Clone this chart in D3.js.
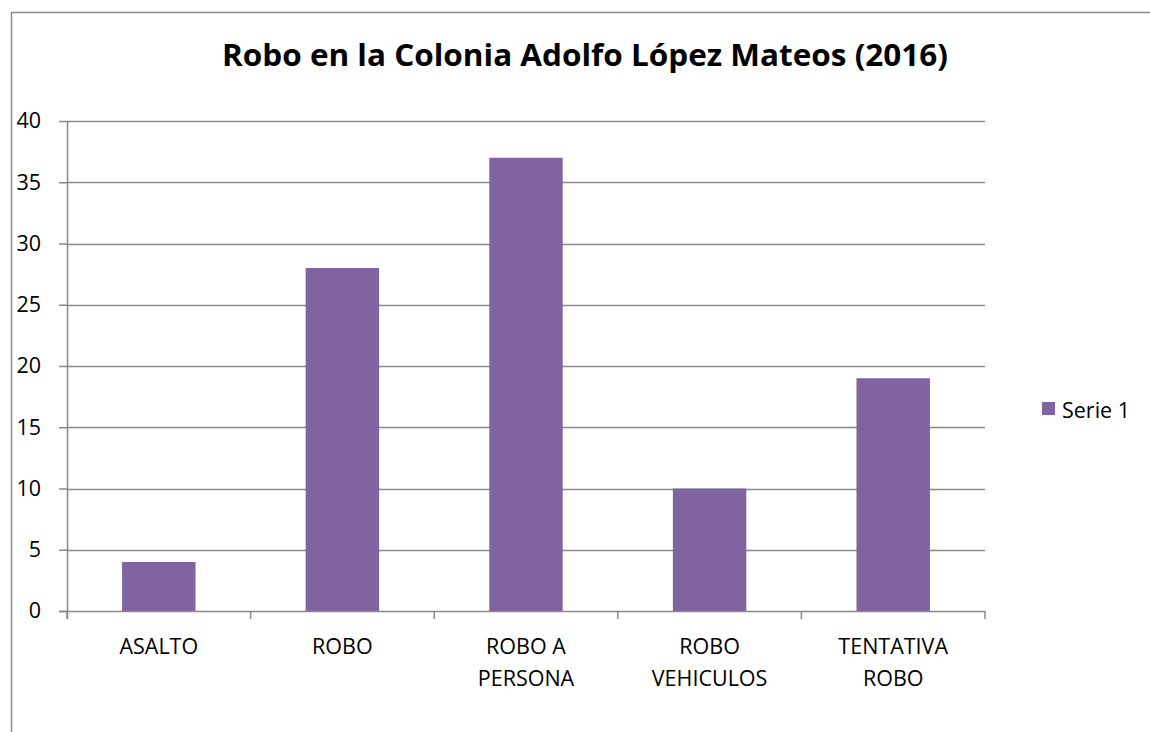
<!DOCTYPE html>
<meta charset="utf-8">
<style>
    html, body { margin: 0; background: #fff; overflow: hidden; }
    svg { display: block; }
    text { fill: #000; font-family: "Open Sans", sans-serif; }
    .title { font-weight: bold; font-size: 31px; }
    .axis text { font-size: 21.5px; }
    .axis path, .axis line { stroke: #898989; }
    .grid line { stroke: #898989; }
    rect.bar { fill: #8064a2; }
</style>
<body>
<script src="https://cdnjs.cloudflare.com/ajax/libs/d3/7.8.5/d3.min.js"></script>
<script>

    var categories = [["ASALTO"], ["ROBO"], ["ROBO A", "PERSONA"], ["ROBO", "VEHICULOS"], ["TENTATIVA", "ROBO"]];
    var values = [4, 28, 37, 10, 19];
    var yTicks = [0, 5, 10, 15, 20, 25, 30, 35, 40];
    var seriesName = "Serie 1";
    var titleText = "Robo en la Colonia Adolfo López Mateos (2016)";

    var W = 1150, H = 732;
    var margin = {top: 121, right: 165, bottom: 121, left: 67},
        width = W - margin.left - margin.right,
        height = H - margin.top - margin.bottom;

    var svg = d3.select("body").append("svg")
        .attr("width", W)
        .attr("height", H);

    // chart frame: only the top and left edges are inside the picture
    svg.append("path")
        .attr("d", "M11.5," + H + "V12.5H" + W)
        .attr("fill", "none").attr("stroke", "#898989").attr("stroke-width", 1.5);

    var title = svg.append("text")
        .attr("class", "title")
        .attr("x", 585).attr("y", 66)
        .attr("text-anchor", "middle")
        .text(titleText);
    // fit to the reference width
    title.attr("textLength", 726).attr("lengthAdjust", "spacingAndGlyphs");

    var g = svg.append("g")
        .attr("transform", "translate(" + margin.left + "," + margin.top + ")");

    var idx = d3.range(values.length);
    var x = d3.scaleBand().domain(idx).range([0, width]).paddingInner(0.6).paddingOuter(0.3);
    var xb = d3.scaleBand().domain(idx).range([0, width]);
    var y = d3.scaleLinear().domain([0, 40]).range([height, 0]);

    g.append("g").attr("class", "grid")
        .selectAll("line").data(yTicks.slice(1)).enter().append("line")
        .attr("x1", 0).attr("x2", width)
        .attr("y1", function(d) { return Math.round(y(d)) + 0.5; })
        .attr("y2", function(d) { return Math.round(y(d)) + 0.5; })
        .attr("stroke-width", 1.5);

    g.selectAll("rect.bar").data(values).enter().append("rect")
        .attr("class", "bar")
        .attr("x", function(d, i) { return x(i); })
        .attr("width", x.bandwidth())
        .attr("y", function(d) { return y(d); })
        .attr("height", function(d) { return height - y(d); });

    // y axis
    var yAxis = g.append("g").attr("class", "axis")
        .call(d3.axisLeft(y).tickValues(yTicks).tickSize(8).tickPadding(18));
    yAxis.selectAll("path, line").attr("stroke-width", 1.5);
    yAxis.select(".domain").attr("d", "M0.5,0V" + (height + 8));

    // x axis with boundary ticks
    var xAxis = g.append("g").attr("class", "axis")
        .attr("transform", "translate(0," + height + ")");
    xAxis.append("line").attr("x1", -8).attr("x2", width).attr("y1", 0.5).attr("y2", 0.5)
        .attr("stroke-width", 1.5);
    xAxis.selectAll("line.tick").data(idx.concat([values.length])).enter().append("line")
        .attr("class", "tick")
        .attr("x1", function(d) { return d < values.length ? xb(d) : width; })
        .attr("x2", function(d) { return d < values.length ? xb(d) : width; })
        .attr("y1", 0).attr("y2", 8).attr("stroke-width", 1.5);

    var lbl = xAxis.selectAll("text.cat").data(categories).enter().append("text")
        .attr("class", "cat")
        .attr("text-anchor", "middle")
        .attr("x", function(d, i) { return xb(i) + xb.bandwidth() / 2; })
        .attr("y", 43);
    lbl.selectAll("tspan").data(function(d) { return d; }).enter().append("tspan")
        .attr("x", function() { return d3.select(this.parentNode).attr("x"); })
        .attr("dy", function(d, i) { return i ? 32 : 0; })
        .text(function(d) { return d; });

    // legend
    var leg = svg.append("g").attr("transform", "translate(1042,402)");
    leg.append("rect").attr("width", 13).attr("height", 13).attr("fill", "#8064a2");
    leg.append("text").attr("x", 20).attr("y", 16).style("font-size", "21.5px").text(seriesName);

</script>
</body>
